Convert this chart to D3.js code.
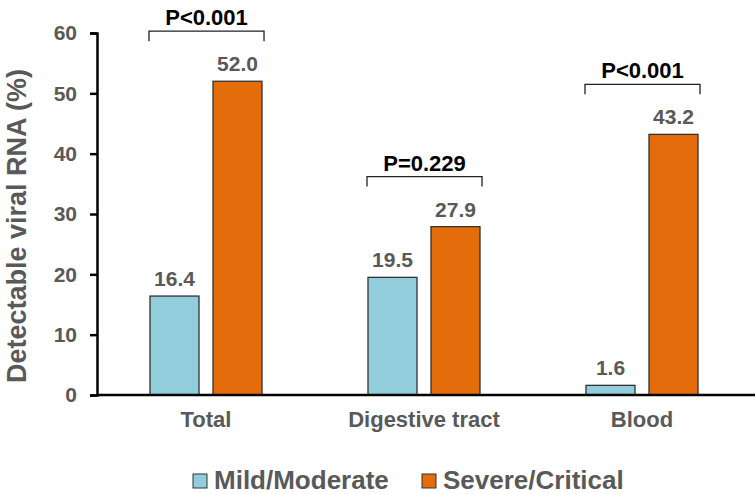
<!DOCTYPE html>
<html>
<head>
<meta charset="utf-8">
<script src="https://cdn.jsdelivr.net/npm/d3@7"></script>
<style>
  html, body { margin: 0; padding: 0; background: #fff; }
  svg { display: block; }
  text { font-family: "Liberation Sans", Arial, sans-serif; font-weight: bold; }
</style>
</head>
<body>
<svg id="chart" width="755" height="494"></svg>
<script>
const categories = ["Total", "Digestive tract", "Blood"];
const seriesNames = ["Mild/Moderate", "Severe/Critical"];
const mildValues = [16.4, 19.5, 1.6];
const severeValues = [52.0, 27.9, 43.2];
const pLabels = ["P<0.001", "P=0.229", "P<0.001"];
const yTicks = [0, 10, 20, 30, 40, 50, 60];
const colors = ["#92CDDC", "#E46C0A"];

const svg = d3.select("#chart");
const gray = "#595959";

const y = d3.scaleLinear().domain([0, 60]).range([395, 33]);
const x = d3.scaleBand().domain(categories).range([97, 751]).padding(0);
const xs = d3.scaleBand().domain(seriesNames).range([0, x.bandwidth()])
  .paddingInner(0.222).paddingOuter(0.841);

const data = categories.map((c, i) => ({
  cat: c, vals: [mildValues[i], severeValues[i]], p: pLabels[i]
}));

// Y axis
const yAxis = d3.axisLeft(y).tickValues(yTicks).tickSize(7).tickPadding(13);
const gy = svg.append("g").attr("transform", "translate(97,0)").call(yAxis);
gy.select(".domain").attr("stroke", "#000").attr("stroke-width", 2.5);
gy.selectAll(".tick line").attr("stroke", "#000").attr("stroke-width", 2.5);
gy.selectAll(".tick text").attr("fill", gray).attr("font-size", 21)
  .attr("font-family", "Liberation Sans, Arial, sans-serif").attr("font-weight", "bold");

// Bars
const groups = svg.append("g").selectAll("g").data(data).join("g")
  .attr("transform", d => `translate(${x(d.cat)},0)`);

groups.selectAll("rect").data(d => d.vals.map((v, j) => ({v, s: seriesNames[j], j})))
  .join("rect")
  .attr("x", d => xs(d.s))
  .attr("y", d => y(d.v))
  .attr("width", xs.bandwidth())
  .attr("height", d => y(0) - y(d.v))
  .attr("fill", d => colors[d.j])
  .attr("stroke", "#333")
  .attr("stroke-width", 1.3);

groups.selectAll("text.val").data(d => d.vals.map((v, j) => ({v, s: seriesNames[j]})))
  .join("text").attr("class", "val")
  .attr("x", d => xs(d.s) + xs.bandwidth() / 2)
  .attr("y", d => y(d.v) - 10)
  .attr("text-anchor", "middle")
  .attr("font-size", 21)
  .attr("fill", gray)
  .text(d => d.v.toFixed(1));

// X axis
const xAxis = d3.axisBottom(x).tickSize(0).tickPadding(16);
const gx = svg.append("g").attr("transform", "translate(0,395)").call(xAxis);
gx.select(".domain").attr("stroke", "#000").attr("stroke-width", 2.5)
  .attr("d", "M97,0H755");
gx.selectAll(".tick text").attr("fill", gray).attr("font-size", 22)
  .attr("font-family", "Liberation Sans, Arial, sans-serif").attr("font-weight", "bold");

// Significance brackets
groups.each(function(d) {
  const g = d3.select(this);
  const top = y(d3.max(d.vals) + 8.3);
  const x0 = xs(seriesNames[0]) - 1;
  const x1 = xs(seriesNames[1]) + xs.bandwidth() + 2;
  g.append("path")
    .attr("d", `M${x0},${top + 10}V${top}H${x1}V${top + 10}`)
    .attr("fill", "none").attr("stroke", "#222").attr("stroke-width", 1.3);
  g.append("text")
    .attr("x", (x0 + x1) / 2).attr("y", top - 6)
    .attr("text-anchor", "middle")
    .attr("font-size", 22).attr("fill", "#000")
    .text(d.p);
});

// Y title
svg.append("text")
  .attr("transform", "translate(26,226) rotate(-90)")
  .attr("text-anchor", "middle")
  .attr("font-size", 27)
  .attr("fill", gray)
  .text("Detectable viral RNA (%)");

// Legend
const legendX = [193, 422];
const leg = svg.append("g").selectAll("g").data(seriesNames).join("g")
  .attr("transform", (d, i) => `translate(${legendX[i]},474)`);
leg.append("rect").attr("width", 14).attr("height", 14)
  .attr("fill", (d, i) => colors[i]).attr("stroke", "#333").attr("stroke-width", 1);
leg.append("text").attr("x", 21).attr("y", 15)
  .attr("font-size", 26).attr("fill", gray).text(d => d);
</script>
</body>
</html>
